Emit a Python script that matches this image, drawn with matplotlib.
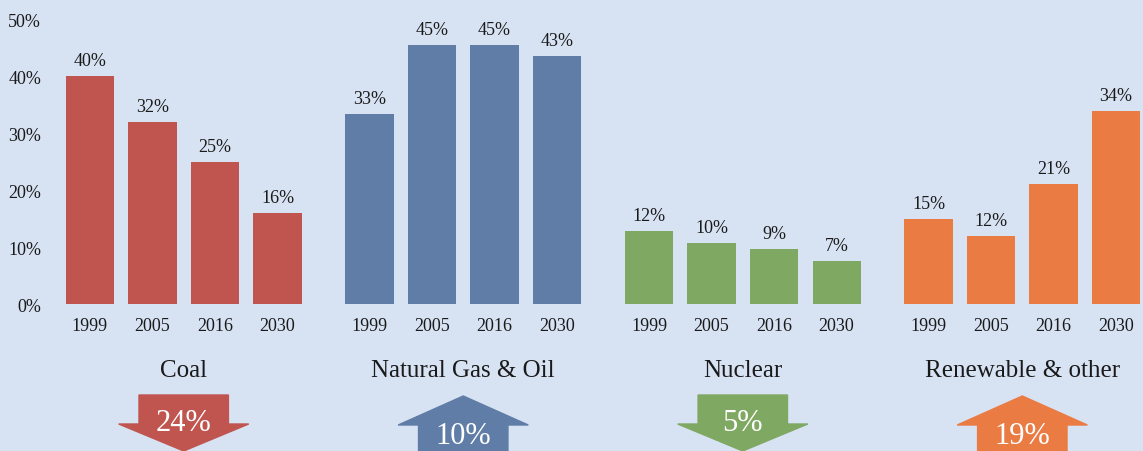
import numpy as np
import matplotlib.pyplot as plt
from matplotlib.patches import Polygon
from matplotlib.transforms import blended_transform_factory

# share of generation per source
years = ['1999', '2005', '2016', '2030']
sources = ['Coal', 'Natural Gas & Oil', 'Nuclear', 'Renewable & other']
coal = [40, 31.9, 24.9, 16]
gas_oil = [33.3, 45.4, 45.4, 43.5]
nuclear = [12.8, 10.7, 9.6, 7.5]
renewable = [14.9, 11.9, 21.05, 33.9]
coal_labels = ['40%', '32%', '25%', '16%']
gas_labels = ['33%', '45%', '45%', '43%']
nuclear_labels = ['12%', '10%', '9%', '7%']
renewable_labels = ['15%', '12%', '21%', '34%']
changes = [-24, 10, -5, 19]   # change 1999 -> 2030, shown in the arrows

colors = ['#C0544F', '#5F7DA6', '#7FA862', '#EA7B43']
bg = '#D7E2F3'
txt = '#1a1a1a'

plt.rcParams['font.family'] = ['Liberation Serif', 'DejaVu Serif']

fig = plt.figure(figsize=(11.43, 4.52), dpi=100, facecolor=bg)
ax = fig.add_axes([0.042, 0.325, 0.958, 0.6305], facecolor=bg)

series = [coal, gas_oil, nuclear, renewable]
labels = [coal_labels, gas_labels, nuclear_labels, renewable_labels]
gap = 4.47
centers = []
xt, xl = [], []
for g, (vals, labs) in enumerate(zip(series, labels)):
    x = g * gap + np.arange(len(years))
    bars = ax.bar(x, vals, width=0.77, color=colors[g])
    for b, lab in zip(bars, labs):
        ax.annotate(lab, (b.get_x() + b.get_width() / 2, b.get_height()),
                    xytext=(0, 5), textcoords='offset points',
                    ha='center', va='bottom', fontsize=13, color=txt)
    xt.extend(x)
    xl.extend(years)
    centers.append(x.mean())

ax.set_ylim(0, 50)
ax.set_xlim(-0.67, 16.84)
ax.set_yticks(np.arange(0, 51, 10))
ax.set_yticklabels([f'{v}%' for v in range(0, 51, 10)], fontsize=13)
ax.set_xticks(xt)
ax.set_xticklabels(xl, fontsize=13)
ax.tick_params(length=0, colors=txt)
ax.tick_params(axis='x', pad=9)
ax.tick_params(axis='y', pad=5)
for s in ax.spines.values():
    s.set_visible(False)

trans = blended_transform_factory(ax.transData, ax.transAxes)
for c, name in zip(centers, sources):
    ax.text(c, -0.232, name, transform=trans, ha='center', va='center',
            fontsize=18, color=txt)

# arrows at the bottom
ax2 = fig.add_axes([0.042, 0.0, 0.958, 72 / 452], facecolor='none')
ax2.set_xlim(ax.get_xlim())
ax2.set_ylim(0, 72)
ax2.axis('off')
sw, hw = 0.715, 1.04
for c, ch, col in zip(centers, changes, colors):
    if ch < 0:
        pts = [(c - sw, 56), (c + sw, 56), (c + sw, 27), (c + hw, 27),
               (c, 0), (c - hw, 27), (c - sw, 27)]
        ty = 28
    else:
        pts = [(c - sw, -10), (c + sw, -10), (c + sw, 26), (c + hw, 26),
               (c, 55), (c - hw, 26), (c - sw, 26)]
        ty = 15
    ax2.add_patch(Polygon(pts, closed=True, color=col, clip_on=False))
    ax2.text(c, ty, f'{abs(ch)}%', ha='center', va='center',
             fontsize=22, color='white')

fig.savefig('out.png', facecolor=bg)
